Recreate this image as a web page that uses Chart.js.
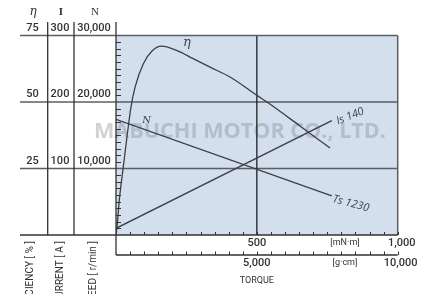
<!DOCTYPE html>
<html>
<head>
<meta charset="utf-8">
<script src="https://cdn.jsdelivr.net/npm/chart.js@4.4.1/dist/chart.umd.min.js"></script>
<style>
  body { margin: 0; background: #fff; }
  #wrap { width: 426px; height: 294px; }
</style>
</head>
<body>
<div id="wrap"><canvas id="motor-chart" width="426" height="294"></canvas></div>
<script>
// efficiency curve, torque in mN·m
const etaTorque = [0, 4, 11.7, 25.9, 41.5, 53, 67.5, 97, 127, 162, 215, 274, 334, 405, 500, 541, 653, 760];
const etaValues = [0, 3.5, 13.1, 25.6, 39.0, 48.0, 55.5, 64.4, 69.1, 71.0, 69.4, 66.3, 63.1, 59.4, 52.5, 49.6, 41.0, 32.7];

// straight lines (current, speed)
const lineTorque = [0, 766];
const currentValues = [10, 172];
const speedValues = [17400, 5900];

// left table tick labels
const etaTicks = [25, 50, 75];
const currentTicks = ['100', '200', '300'];
const speedTicks = ['10,000', '20,000', '30,000'];

// torque axis labels
const torqueTicks = [500, 1000];
const torqueLabels = ['500', '1,000'];
const gcmTicks = [5000, 10000];
const gcmLabels = ['5,000', '10,000'];

const numFont = '500 11px Roboto, "Liberation Sans", sans-serif';
const ink = '#333';

const chartDecor = {
    id: 'chartDecor',
    beforeDatasetsDraw(chart) {
        const ctx = chart.ctx;
        const a = chart.chartArea;
        const x = chart.scales.x;
        const y = chart.scales.yEta;
        ctx.save();
        ctx.fillStyle = '#d3dfed';
        ctx.fillRect(a.left, a.top, a.right - a.left, a.bottom - a.top);

        // watermark
        ctx.font = 'bold 22px "Open Sans", sans-serif';
        ctx.fillStyle = 'rgba(125,130,140,0.36)';
        ctx.textBaseline = 'middle';
        const wm = 'MABUCHI MOTOR CO., LTD.';
        const w = ctx.measureText(wm).width;
        ctx.save();
        ctx.translate(94, 132);
        ctx.scale(292 / w, 1);
        ctx.fillText(wm, 0, 0);
        ctx.restore();

        // horizontal grid
        ctx.strokeStyle = '#5a5e66';
        ctx.lineWidth = 1.5;
        etaTicks.slice(0, 2).forEach(v => {
            const py = y.getPixelForValue(v);
            ctx.beginPath(); ctx.moveTo(20, py); ctx.lineTo(a.right, py); ctx.stroke();
        });
        // vertical at 500
        ctx.strokeStyle = '#111';
        ctx.lineWidth = 1.2;
        const px = x.getPixelForValue(500);
        ctx.beginPath(); ctx.moveTo(px, a.top); ctx.lineTo(px, a.bottom); ctx.stroke();
        ctx.restore();
    },
    afterDatasetsDraw(chart) {
        const ctx = chart.ctx;
        const a = chart.chartArea;
        const x = chart.scales.x;
        const x2 = chart.scales.x2;
        const y = chart.scales.yEta;
        ctx.save();

        // frame
        ctx.strokeStyle = '#5a5e66';
        ctx.lineWidth = 1.5;
        ctx.beginPath();
        ctx.moveTo(20, a.top); ctx.lineTo(a.right, a.top);
        ctx.moveTo(a.right, a.top); ctx.lineTo(a.right, a.bottom);
        ctx.stroke();
        ctx.strokeStyle = '#333';
        ctx.lineWidth = 1.3;
        ctx.beginPath();
        ctx.moveTo(20, a.bottom); ctx.lineTo(a.right, a.bottom);
        ctx.moveTo(a.left, 22); ctx.lineTo(a.left, 255);
        ctx.moveTo(47.7, 22); ctx.lineTo(47.7, a.bottom);
        ctx.moveTo(74, 22); ctx.lineTo(74, a.bottom);
        // second torque axis
        ctx.moveTo(a.left, 255); ctx.lineTo(a.right, 255);
        ctx.stroke();

        // left ticks
        ctx.lineWidth = 1;
        ctx.beginPath();
        for (let v = 2.5; v < 75; v += 2.5) {
            if (v % 25 === 0) continue;
            const py = Math.round(y.getPixelForValue(v)) + 0.5;
            ctx.moveTo(a.left, py); ctx.lineTo(a.left + 5, py);
        }
        // bottom ticks
        for (let v = 50; v <= 1000; v += 50) {
            const p = Math.round(x.getPixelForValue(v)) + 0.5;
            ctx.moveTo(p, a.bottom); ctx.lineTo(p, a.bottom - 3);
        }
        for (let v = 500; v <= 10000; v += 500) {
            const p = Math.round(x2.getPixelForValue(v)) + 0.5;
            ctx.moveTo(p, 255); ctx.lineTo(p, 251.5);
        }
        ctx.stroke();

        // table header
        ctx.fillStyle = ink;
        ctx.textAlign = 'center';
        ctx.textBaseline = 'middle';
        ctx.font = 'italic 12px "DejaVu Serif", serif';
        ctx.fillText('η', 33, 12);
        ctx.font = 'bold 11px "Liberation Serif", serif';
        ctx.fillText('I', 61, 12);
        ctx.font = '11px "Liberation Serif", serif';
        ctx.fillText('N', 95, 12);

        // table values
        ctx.font = numFont;
        ctx.textBaseline = 'alphabetic';
        etaTicks.forEach((v, i) => {
            const py = y.getPixelForValue(v) - 5;
            ctx.fillText(String(v), 32.5, py);
            ctx.fillText(currentTicks[i], 60, py);
            ctx.fillText(speedTicks[i], 94, py);
        });

        // torque labels
        ctx.textBaseline = 'middle';
        torqueTicks.forEach((v, i) => {
            ctx.fillText(torqueLabels[i], x.getPixelForValue(v) + (i ? 4 : 0), 243);
        });
        gcmTicks.forEach((v, i) => {
            ctx.fillText(gcmLabels[i], x2.getPixelForValue(v) + (i ? 3 : 0), 263);
        });
        ctx.font = '9px Roboto, sans-serif';
        ctx.fillText('[mN·m]', 345, 243);
        ctx.fillText('[g·cm]', 345, 263);
        ctx.fillText('TORQUE', x.getPixelForValue(500), 281);

        // rotated axis titles
        ctx.font = '10px Roboto, sans-serif';
        ctx.textAlign = 'right';
        [['EFFICIENCY [ % ]', 30], ['CURRENT [ A ]', 60.5], ['SPEED [ r/min ]', 93]].forEach(t => {
            ctx.save();
            ctx.translate(t[1], 241);
            ctx.rotate(-Math.PI / 2);
            ctx.fillText(t[0], 0, 0);
            ctx.restore();
        });

        // curve labels
        ctx.textAlign = 'center';
        ctx.font = 'italic 13px "DejaVu Serif", serif';
        ctx.fillStyle = '#444';
        ctx.fillText('η', 187, 43);
        ctx.font = 'italic 10px "DejaVu Serif", serif';
        ctx.fillText('N', 146.5, 120);

        const ex = x.getPixelForValue(lineTorque[1]);
        const eyI = chart.scales.yI.getPixelForValue(currentValues[1]);
        const eyN = chart.scales.yN.getPixelForValue(speedValues[1]);
        ctx.font = 'italic 11px "Open Sans", sans-serif';
        ctx.textAlign = 'left';
        ctx.save();
        ctx.translate(ex + 5, eyI + 1);
        ctx.rotate(-22 * Math.PI / 180);
        ctx.fillText('Is 140', 0, 0);
        ctx.restore();
        ctx.save();
        ctx.translate(ex + 1, eyN + 3);
        ctx.rotate(15 * Math.PI / 180);
        ctx.fillText('Ts 1230', 0, 0);
        ctx.restore();

        ctx.restore();
    }
};

const lineStyle = {
    borderColor: '#3c3f45',
    borderWidth: 1.3,
    pointRadius: 0,
    fill: false
};

new Chart(document.getElementById('motor-chart'), {
    type: 'line',
    data: {
        datasets: [
            Object.assign({
                label: 'η',
                yAxisID: 'yEta',
                data: etaTorque.map((t, i) => ({ x: t, y: etaValues[i] })),
                cubicInterpolationMode: 'monotone'
            }, lineStyle),
            Object.assign({
                label: 'I',
                yAxisID: 'yI',
                data: lineTorque.map((t, i) => ({ x: t, y: currentValues[i] }))
            }, lineStyle),
            Object.assign({
                label: 'N',
                yAxisID: 'yN',
                data: lineTorque.map((t, i) => ({ x: t, y: speedValues[i] }))
            }, lineStyle)
        ]
    },
    options: {
        responsive: false,
        animation: false,
        layout: { padding: { left: 116, top: 35.5, right: 28.3, bottom: 59 } },
        plugins: { legend: { display: false }, tooltip: { enabled: false } },
        scales: {
            x: { type: 'linear', min: 0, max: 1000, display: false },
            x2: { type: 'linear', min: 0, max: 10000, display: false },
            yEta: { min: 0, max: 75, display: false },
            yI: { min: 0, max: 300, display: false },
            yN: { min: 0, max: 30000, display: false }
        }
    },
    plugins: [chartDecor]
});
</script>
</body>
</html>
